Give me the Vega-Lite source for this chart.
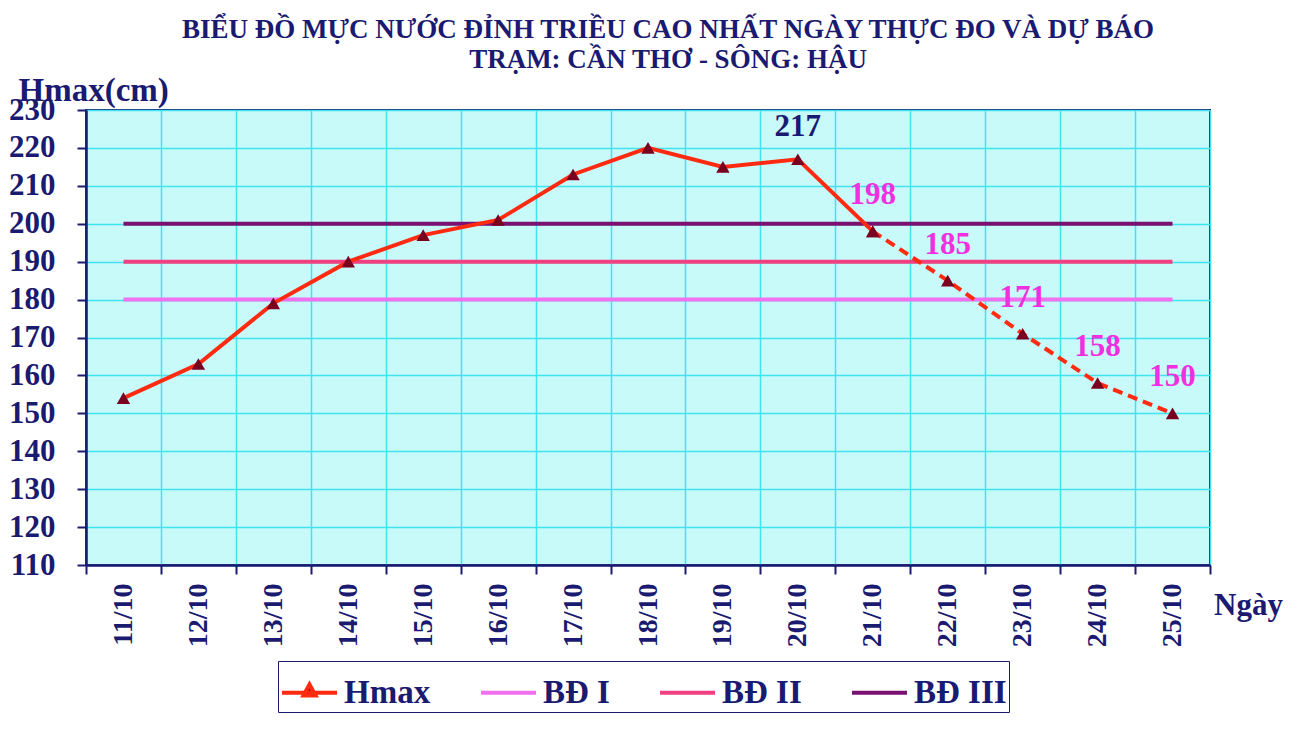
{
  "$schema": "https://vega.github.io/schema/vega-lite/v6.json",
  "width": 1124,
  "height": 455,
  "autosize": {"type": "none"},
  "padding": {"left": 86, "top": 110, "right": 90, "bottom": 171},
  "background": "white",
  "config": {
    "font": "Liberation Serif",
    "view": {"fill": "#c8fafa", "stroke": "#1a1a70", "strokeWidth": 2}
  },
  "title": {
    "text": ["BIỂU ĐỒ MỰC NƯỚC ĐỈNH TRIỀU CAO NHẤT NGÀY THỰC ĐO VÀ DỰ BÁO", "TRẠM: CẦN THƠ - SÔNG: HẬU"],
    "font": "Liberation Serif",
    "fontSize": 27,
    "fontWeight": "bold",
    "color": "#1a1a70",
    "anchor": "middle",
    "dx": 20,
    "offset": 0,
    "lineHeight": 30
  },
  "datasets": {
    "obs": [
      {"date": "11/10", "value": 154},
      {"date": "12/10", "value": 163},
      {"date": "13/10", "value": 179},
      {"date": "14/10", "value": 190},
      {"date": "15/10", "value": 197},
      {"date": "16/10", "value": 201},
      {"date": "17/10", "value": 213},
      {"date": "18/10", "value": 220},
      {"date": "19/10", "value": 215},
      {"date": "20/10", "value": 217},
      {"date": "21/10", "value": 198}
    ],
    "fc": [
      {"date": "21/10", "value": 198},
      {"date": "22/10", "value": 185},
      {"date": "23/10", "value": 171},
      {"date": "24/10", "value": 158},
      {"date": "25/10", "value": 150}
    ],
    "levels": [
      {"date": "11/10", "value": 180, "series": "BĐ I"},
      {"date": "25/10", "value": 180, "series": "BĐ I"},
      {"date": "11/10", "value": 190, "series": "BĐ II"},
      {"date": "25/10", "value": 190, "series": "BĐ II"},
      {"date": "11/10", "value": 200, "series": "BĐ III"},
      {"date": "25/10", "value": 200, "series": "BĐ III"}
    ]
  },
  "encoding": {
    "x": {
      "field": "date",
      "type": "ordinal",
      "scale": {
        "type": "band",
        "paddingInner": 0,
        "paddingOuter": 0,
        "domain": ["11/10", "12/10", "13/10", "14/10", "15/10", "16/10", "17/10", "18/10", "19/10", "20/10", "21/10", "22/10", "23/10", "24/10", "25/10"]
      },
      "axis": {
        "title": "Ngày",
        "tickBand": "extent",
        "labelAngle": -90,
        "labelFont": "Liberation Serif",
        "labelFontSize": 28,
        "labelFontWeight": "bold",
        "labelColor": "#1a1a70",
        "labelPadding": 9,
        "tickColor": "#1a1a70",
        "tickSize": 9,
        "tickWidth": 2,
        "domainColor": "#1a1a70",
        "domainWidth": 2.5,
        "grid": true,
        "gridColor": "#40e4f0",
        "gridWidth": 1.5,
        "titleX": 1162,
        "titleY": 40,
        "titleFont": "Liberation Serif",
        "titleFontSize": 31,
        "titleFontWeight": "bold",
        "titleColor": "#1a1a70",
        "titleAlign": "center",
        "titleBaseline": "middle"
      }
    },
    "y": {
      "field": "value",
      "type": "quantitative",
      "scale": {"domain": [110, 230], "nice": false, "zero": false},
      "axis": {
        "title": "Hmax(cm)",
        "titleAngle": 0,
        "titleX": -68,
        "titleY": -20,
        "titleAlign": "left",
        "titleBaseline": "middle",
        "titleFont": "Liberation Serif",
        "titleFontSize": 33,
        "titleFontWeight": "bold",
        "titleColor": "#1a1a70",
        "values": [110, 120, 130, 140, 150, 160, 170, 180, 190, 200, 210, 220, 230],
        "labelFont": "Liberation Serif",
        "labelFontSize": 31,
        "labelFontWeight": "bold",
        "labelColor": "#1a1a70",
        "labelPadding": 22,
        "tickColor": "#1a1a70",
        "tickSize": 9,
        "tickWidth": 2,
        "domainColor": "#1a1a70",
        "domainWidth": 2.5,
        "grid": true,
        "gridColor": "#40e4f0",
        "gridWidth": 1.5
      }
    }
  },
  "layer": [
    {
      "data": {"name": "levels"},
      "mark": {"type": "line", "strokeWidth": 4},
      "encoding": {
        "color": {
          "field": "series",
          "type": "nominal",
          "scale": {
            "domain": ["Hmax", "BĐ I", "BĐ II", "BĐ III"],
            "range": ["#ff2a10", "#f070f0", "#f04080", "#7a1070"]
          },
          "legend": {
            "orient": "none",
            "legendX": 192,
            "legendY": 551,
            "direction": "horizontal",
            "columns": 4,
            "title": null,
            "labelFont": "Liberation Serif",
            "labelFontSize": 33,
            "labelFontWeight": "bold",
            "labelColor": "#1a1a70",
            "symbolType": "stroke",
            "symbolSize": 3025,
            "symbolStrokeWidth": 4,
            "columnPadding": 42,
            "padding": 2,
            "strokeColor": "#1a1a70",
            "fillColor": "white",
            "labelOffset": 5,
            "encode": {
              "symbols": {
                "update": {
                  "shape": {"signal": "datum.value === 'Hmax' ? 'M-1,0L1,0M0,-0.3L0.22,0.1L-0.22,0.1Z' : 'M-1,0L1,0'"},
                  "fill": {"signal": "datum.value === 'Hmax' ? '#7a0020' : 'transparent'"}
                }
              }
            }
          }
        }
      }
    },
    {
      "data": {"name": "obs"},
      "mark": {"type": "line", "strokeWidth": 4},
      "encoding": {"color": {"datum": "Hmax"}}
    },
    {
      "data": {"name": "fc"},
      "mark": {"type": "line", "strokeWidth": 4, "strokeDash": [10, 6]},
      "encoding": {"color": {"datum": "Hmax"}}
    },
    {
      "data": {"name": "obs"},
      "mark": {"type": "point", "shape": "triangle-up", "filled": true, "size": 180, "color": "#7a0020", "opacity": 1}
    },
    {
      "data": {"name": "fc"},
      "mark": {"type": "point", "shape": "triangle-up", "filled": true, "size": 180, "color": "#7a0020", "opacity": 1}
    },
    {
      "data": {"name": "obs"},
      "transform": [{"filter": "datum.date == '20/10'"}],
      "mark": {"type": "text", "dy": -32, "fontSize": 31, "fontWeight": "bold", "font": "Liberation Serif", "color": "#1a1a70"},
      "encoding": {"text": {"field": "value", "type": "quantitative"}}
    },
    {
      "data": {"name": "fc"},
      "mark": {"type": "text", "dy": -36, "fontSize": 31, "fontWeight": "bold", "font": "Liberation Serif", "color": "#f030e0"},
      "encoding": {"text": {"field": "value", "type": "quantitative"}}
    }
  ]
}
